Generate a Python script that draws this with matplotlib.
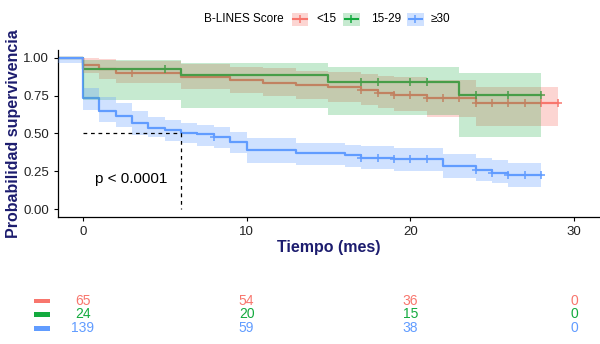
import numpy as np
import matplotlib
matplotlib.use('Agg')
import matplotlib.pyplot as plt
import matplotlib.transforms as mtransforms
from matplotlib.patches import Rectangle
from matplotlib.lines import Line2D

plt.rcParams['font.family'] = ['Liberation Sans', 'DejaVu Sans']

# Datos (Kaplan-Meier por grupo de B-LINES)
grupos = ['<15', '15-29', '≥30']
colores = ['#F8766D', '#13AA3E', '#619CFF']
alfas = [0.3, 0.24, 0.3]

tiempos_r = [-1.5, 0, 1, 2, 6, 9, 11, 13, 15, 17, 18, 19, 21, 24, 29]
surv_r = [1.0, 0.952, 0.923, 0.90, 0.874, 0.853, 0.835, 0.82, 0.804, 0.786, 0.769, 0.753, 0.733, 0.699, 0.699]
sup_r = [1.0, 0.995, 0.99, 0.975, 0.955, 0.94, 0.93, 0.915, 0.905, 0.895, 0.88, 0.87, 0.855, 0.805, 0.805]
inf_r = [1.0, 0.90, 0.86, 0.83, 0.79, 0.765, 0.745, 0.725, 0.71, 0.69, 0.67, 0.65, 0.61, 0.55, 0.55]
censura_r = [3, 17, 18, 19, 20, 21, 22, 23, 24, 25, 26, 27, 28, 29]

tiempos_g = [-1.5, 0, 6, 15, 23, 28]
surv_g = [1.0, 0.925, 0.886, 0.837, 0.753, 0.753]
sup_g = [1.0, 0.985, 0.963, 0.936, 0.897, 0.897]
inf_g = [1.0, 0.72, 0.666, 0.621, 0.478, 0.478]
censura_g = [5, 17, 18, 20, 21, 24, 26, 28]

tiempos_b = [-1.5, 0, 1, 2, 3, 4, 5, 6, 7, 8, 9, 10, 13, 16, 17, 19, 22, 24, 25, 26, 28]
surv_b = [1.0, 0.731, 0.65, 0.615, 0.566, 0.538, 0.522, 0.505, 0.494, 0.478, 0.445, 0.39,
          0.368, 0.357, 0.339, 0.331, 0.284, 0.258, 0.24, 0.225, 0.225]
sup_b = [1.0, 0.80, 0.743, 0.698, 0.65, 0.61, 0.588, 0.571, 0.555, 0.54, 0.511, 0.467,
         0.434, 0.425, 0.418, 0.405, 0.363, 0.335, 0.324, 0.306, 0.306]
inf_b = [0.965, 0.655, 0.577, 0.544, 0.489, 0.474, 0.452, 0.434, 0.419, 0.401, 0.368, 0.306,
         0.291, 0.28, 0.262, 0.253, 0.207, 0.187, 0.17, 0.148, 0.148]
censura_b = [8, 17, 18, 19, 20, 21, 24, 25, 26, 27, 28]

# Tabla de riesgo
tiempos_riesgo = [0, 10, 20, 30]
riesgo_r = [65, 54, 36, 0]
riesgo_g = [24, 20, 15, 0]
riesgo_b = [139, 59, 38, 0]

curvas = [
    (tiempos_r, surv_r, sup_r, inf_r, censura_r),
    (tiempos_g, surv_g, sup_g, inf_g, censura_g),
    (tiempos_b, surv_b, sup_b, inf_b, censura_b),
]
riesgos = [riesgo_r, riesgo_g, riesgo_b]

azul_oscuro = '#1C1C6E'

fig = plt.figure(figsize=(6, 3.44), dpi=100)
ax = fig.add_axes([0.0972, 0.3703, 0.9003, 0.4841])


def valor_en(tiempos, surv, t):
    i = np.searchsorted(tiempos, t, side='right') - 1
    return surv[i]


# Curvas (primero las lineas, luego las bandas por encima como en ggsurvplot)
for (t, s, su, inf, cen), col in zip(curvas, colores):
    ax.step(t, s, where='post', color=col, lw=1.6, zorder=2)
    ys = [valor_en(t, s, c) for c in cen]
    ax.plot(cen, ys, ls='none', marker='+', ms=6, mew=1.1, color=col, zorder=2)

for (t, s, su, inf, cen), col, a in zip(curvas, colores, alfas):
    ax.fill_between(t, inf, su, step='post', color=col, alpha=a, lw=0, zorder=3)

# Mediana
ax.plot([0, 6], [0.5, 0.5], ls=(0, (3, 3)), color='black', lw=0.9, zorder=4)
ax.plot([6, 6], [0.5, 0], ls=(0, (3, 3)), color='black', lw=0.9, zorder=4)

ax.text(2.93, 0.196, 'p < 0.0001', fontsize=11, ha='center', va='center')

ax.set_xlim(-1.5, 31.5)
ax.set_ylim(-0.05, 1.05)
ax.set_xticks([0, 10, 20, 30])
ax.set_yticks([0, 0.25, 0.5, 0.75, 1.0])
ax.set_yticklabels(['0.00', '0.25', '0.50', '0.75', '1.00'])
ax.tick_params(labelsize=9.5, length=3, width=0.8, colors='black', labelcolor='#222222')
for lado in ['top', 'right']:
    ax.spines[lado].set_visible(False)
for lado in ['left', 'bottom']:
    ax.spines[lado].set_linewidth(0.9)

ax.set_xlabel('Tiempo (mes)', fontsize=11.5, fontweight='bold', color=azul_oscuro, labelpad=2)
ax.set_ylabel('Probabilidad supervivencia', fontsize=11.5, fontweight='bold', color=azul_oscuro, labelpad=2)

# Leyenda manual (titulo a la izquierda)
ly = 1 - 19 / 344
fig.text(284 / 600, ly, 'B-LINES Score', fontsize=8.5, ha='right', va='center')
claves = [(291.7, 316), (343, 371), (407, 431)]
for (kx, tx), col, nombre, a in zip(claves, colores, grupos, alfas):
    fig.patches.append(Rectangle((kx / 600, 1 - 26 / 344), 16.6 / 600, 13.3 / 344,
                                 transform=fig.transFigure, color=col, alpha=a, lw=0))
    fig.lines.append(Line2D([(kx + 1.5) / 600, (kx + 15) / 600], [ly, ly], transform=fig.transFigure,
                            color=col, lw=1.5))
    fig.lines.append(Line2D([(kx + 8.3) / 600], [ly], transform=fig.transFigure, color=col,
                            marker='+', ms=6, mew=1.1))
    fig.text(tx / 600, ly, nombre, fontsize=8.5, ha='left', va='center')

# Tabla de riesgo
mezcla = mtransforms.blended_transform_factory(ax.transData, fig.transFigure)
filas_y = [1 - 300.7 / 344, 1 - 314.5 / 344, 1 - 328.3 / 344]
for fila, col, yy in zip(riesgos, colores, filas_y):
    fig.patches.append(Rectangle((34 / 600, yy - 2.2 / 344), 16 / 600, 4.4 / 344,
                                 transform=fig.transFigure, color=col, lw=0))
    for tt, n in zip(tiempos_riesgo, fila):
        fig.text(tt, yy, str(n), transform=mezcla, fontsize=10, color=col, ha='center', va='center')

plt.savefig('out.png', dpi=100)
